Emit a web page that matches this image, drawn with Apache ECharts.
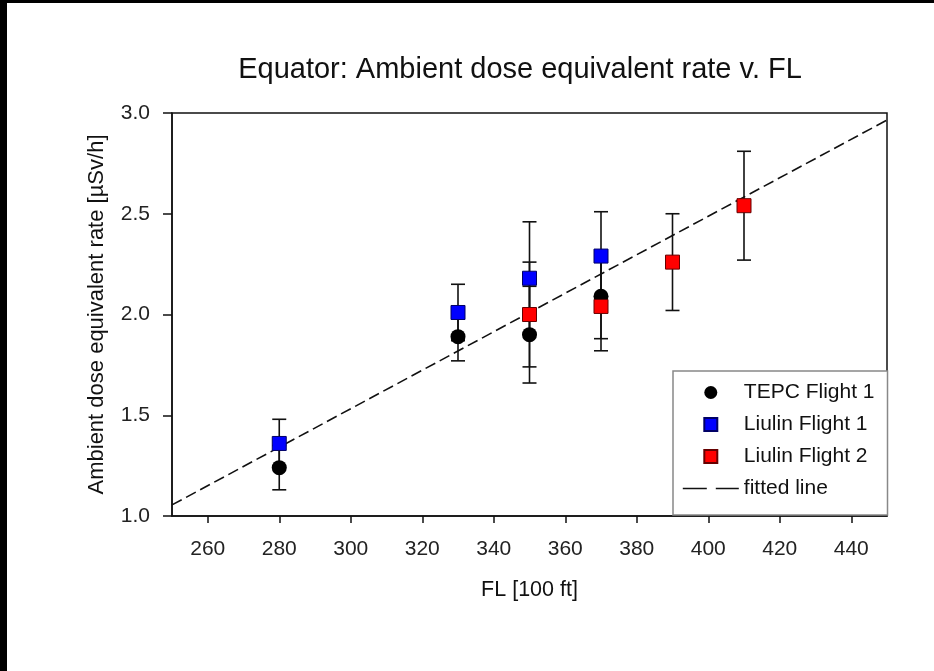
<!DOCTYPE html>
<html>
<head>
<meta charset="utf-8">
<script src="https://cdn.jsdelivr.net/npm/echarts@6/dist/echarts.min.js"></script>
<style>
  html, body { margin: 0; padding: 0; background: #fff; }
  #chart { position: absolute; left: 0; top: 0; width: 934px; height: 671px; }
  .bandL { position: absolute; left: 0; top: 0; width: 7px; height: 671px; background: #000; }
  .bandT { position: absolute; left: 0; top: 0; width: 934px; height: 3px; background: #000; }
</style>
</head>
<body>
<div id="chart"></div>
<div class="bandL"></div>
<div class="bandT"></div>
<script>
// ---- data ----
const titleText = 'Equator: Ambient dose equivalent rate v. FL';
const xName = 'FL [100 ft]';
const yName = 'Ambient dose equivalent rate [µSv/h]';
const xTicks = [260, 280, 300, 320, 340, 360, 380, 400, 420, 440];
const yTicks = [1.0, 1.5, 2.0, 2.5, 3.0];

const tepcFL   = [280, 330, 350, 370];
const tepcRate = [1.24, 1.89, 1.90, 2.09];
const tepcErr  = [0.11, 0.12, 0.24, 0.21];

const liulin1FL   = [280, 330, 350, 370];
const liulin1Rate = [1.36, 2.01, 2.18, 2.29];
const liulin1Err  = [0.12, 0.14, 0.28, 0.22];

const liulin2FL   = [350, 370, 390, 410];
const liulin2Rate = [2.00, 2.04, 2.26, 2.54];
const liulin2Err  = [0.26, 0.22, 0.24, 0.27];

const fitFL   = [250, 450];
const fitRate = [1.055, 2.965];

const names = ['TEPC Flight 1', 'Liulin Flight 1', 'Liulin Flight 2', 'fitted line'];

// ---- build ----
const FONT = 'Liberation Sans, Arial, sans-serif';
const SQUARE = 'path://M0,0L10,0L10,10L0,10Z';
const pts = (xs, ys) => xs.map((x, i) => [x, ys[i]]);
const errs = (xs, ys, es) => xs.map((x, i) => [x, ys[i] - es[i], ys[i] + es[i]]);

function errorSeries(data) {
  return {
    type: 'custom',
    z: 2,
    silent: true,
    data: data,
    encode: { x: 0, y: [1, 2] },
    renderItem: function (params, api) {
      const x = api.value(0);
      const lo = api.coord([x, api.value(1)]);
      const hi = api.coord([x, api.value(2)]);
      const hw = 7;
      const st = { stroke: '#111', lineWidth: 1.6 };
      return {
        type: 'group',
        children: [
          { type: 'line', shape: { x1: lo[0], y1: lo[1], x2: hi[0], y2: hi[1] }, style: st },
          { type: 'line', shape: { x1: lo[0] - hw, y1: lo[1], x2: lo[0] + hw, y2: lo[1] }, style: st },
          { type: 'line', shape: { x1: hi[0] - hw, y1: hi[1], x2: hi[0] + hw, y2: hi[1] }, style: st }
        ]
      };
    }
  };
}

const chart = echarts.init(document.getElementById('chart'), null, { renderer: 'canvas' });
chart.setOption({
  animation: false,
  backgroundColor: '#fff',
  title: {
    text: titleText,
    left: 515, top: 50, textAlign: 'center',
    textStyle: { fontFamily: FONT, fontSize: 29, fontWeight: 'normal', color: '#111' }
  },
  grid: {
    left: 172, right: 47, top: 113, bottom: 155,
    show: true, borderColor: '#111', borderWidth: 1.5, backgroundColor: '#fff'
  },
  legend: {
    orient: 'vertical',
    left: 673, top: 371,
    padding: [11, 13, 16, 9],
    itemWidth: 56, itemHeight: 13, itemGap: 11,
    symbolKeepAspect: true,
    backgroundColor: '#fff',
    borderColor: '#888', borderWidth: 1.5,
    textStyle: { fontFamily: FONT, fontSize: 21, color: '#111' },
    data: [
      { name: names[0], icon: 'circle' },
      { name: names[1], icon: SQUARE },
      { name: names[2], icon: SQUARE },
      { name: names[3],
        itemStyle: { color: 'rgba(0,0,0,0)', borderWidth: 0, opacity: 0 },
        lineStyle: { type: [24, 9], width: 1.6, color: '#111' } }
    ]
  },
  xAxis: {
    type: 'value', min: 250, max: 450,
    name: xName, nameLocation: 'middle', nameGap: 63,
    nameTextStyle: { fontFamily: FONT, fontSize: 21.5, color: '#111' },
    axisLine: { show: true, onZero: false, lineStyle: { color: '#111', width: 1.5 } },
    axisTick: { show: true, inside: false, length: 7, customValues: xTicks, lineStyle: { color: '#111', width: 1.5 } },
    axisLabel: { margin: 23, customValues: xTicks, fontFamily: FONT, fontSize: 21, color: '#222' },
    splitLine: { show: false }
  },
  yAxis: {
    type: 'value', min: 1.0, max: 3.0, interval: 0.5,
    name: yName, nameLocation: 'middle', nameGap: 64, nameRotate: 90,
    nameTextStyle: { fontFamily: FONT, fontSize: 22, color: '#111' },
    axisLine: { show: true, onZero: false, lineStyle: { color: '#111', width: 1.5 } },
    axisTick: { show: true, inside: false, length: 9, customValues: yTicks, lineStyle: { color: '#111', width: 1.5 } },
    axisLabel: { margin: 22, customValues: yTicks, fontFamily: FONT, fontSize: 21, color: '#222',
      formatter: v => v.toFixed(1) },
    splitLine: { show: false }
  },
  series: [
    errorSeries(errs(tepcFL, tepcRate, tepcErr)),
    errorSeries(errs(liulin1FL, liulin1Rate, liulin1Err)),
    errorSeries(errs(liulin2FL, liulin2Rate, liulin2Err)),
    {
      name: names[3], type: 'line', z: 3, data: pts(fitFL, fitRate),
      symbol: 'none', silent: true,
      itemStyle: { color: '#111' },
      lineStyle: { color: '#111', width: 1.6, type: [11, 5] }
    },
    {
      name: names[0], type: 'scatter', z: 4, data: pts(tepcFL, tepcRate),
      symbol: 'circle', symbolSize: 15,
      itemStyle: { color: '#000', opacity: 1 }
    },
    {
      name: names[1], type: 'scatter', z: 4, data: pts(liulin1FL, liulin1Rate),
      symbol: SQUARE, symbolSize: 14,
      itemStyle: { color: '#0000ff', borderColor: '#000066', borderWidth: 1, opacity: 1 }
    },
    {
      name: names[2], type: 'scatter', z: 4, data: pts(liulin2FL, liulin2Rate),
      symbol: SQUARE, symbolSize: 14,
      itemStyle: { color: '#ff0000', borderColor: '#660000', borderWidth: 1, opacity: 1 }
    }
  ]
});
</script>
</body>
</html>
